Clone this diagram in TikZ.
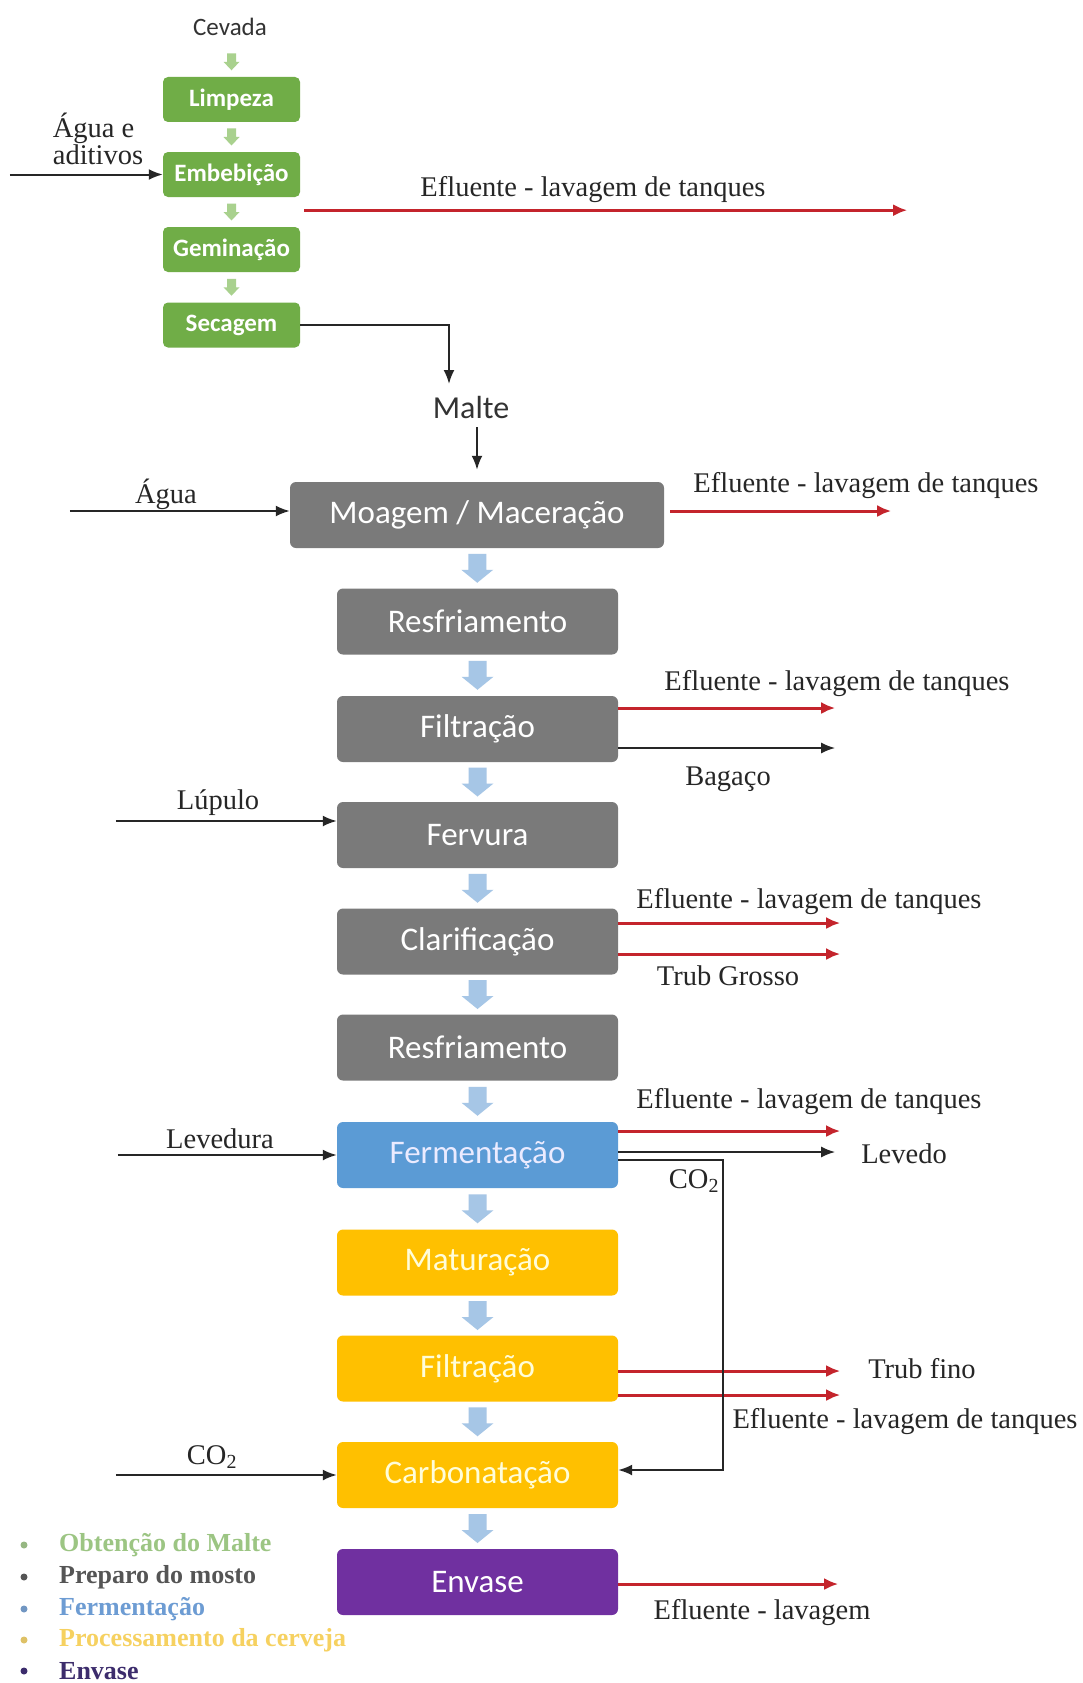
\documentclass[tikz,border=0pt]{standalone}
\usepackage{fontspec}
\setmainfont{Liberation Serif}
\newfontfamily\calfont{Carlito}
\usetikzlibrary{arrows.meta,calc}
\definecolor{grnbox}{HTML}{70AD47}
\definecolor{grnarr}{HTML}{A9D18E}
\definecolor{graybox}{HTML}{7A7A7A}
\definecolor{bluebox}{HTML}{5B9BD5}
\definecolor{yelbox}{HTML}{FFC000}
\definecolor{purbox}{HTML}{7030A0}
\definecolor{bluearr}{HTML}{A6C6E6}
\definecolor{effred}{RGB}{196,36,44}
\definecolor{lgA}{HTML}{9CC583}
\definecolor{lgB}{HTML}{555555}
\definecolor{lgC}{HTML}{6D9CD3}
\definecolor{lgD}{HTML}{F6D160}
\definecolor{lgE}{HTML}{3C2C6C}
\newcommand{\downblock}[2]{%
  \path ($(#1.south)!0.5!(#2.north)$) coordinate (m);
  \fill[bluearr, shift={(m)}] (-9,-14.5) -- (9,-14.5) -- (9,1.5) -- (16,1.5) -- (0,14.5) -- (-16,1.5) -- (-9,1.5) -- cycle;}
\newcommand{\downsmall}[1]{%
  \fill[grnarr, shift={(#1)}] (-4.5,-8.5) -- (4.5,-8.5) -- (4.5,0) -- (8,0) -- (0,8.5) -- (-8,0) -- (-4.5,0) -- cycle;}
\begin{document}
\begin{tikzpicture}[x=1pt,y=-1pt,
  gbox/.style={rounded corners=5pt, fill=grnbox, text=white, minimum width=137pt, minimum height=45pt, inner sep=0pt, font=\calfont\bfseries\fontsize{25}{28}\selectfont},
  pbox/.style={rounded corners=6pt, minimum width=281pt, minimum height=66pt, inner sep=0pt, text=white, font=\calfont\fontsize{33}{36}\selectfont},
  lbl/.style={inner sep=0pt, text=black!85, font=\fontsize{28.5}{31}\selectfont},
  blk/.style={draw=black!85, line width=2pt, -{Latex[length=14pt,width=11pt]}},
  redarr/.style={draw=effred, line width=3pt, -{Latex[length=14pt,width=12pt]}},
  legtxt/.style={anchor=west, inner sep=0pt, font=\bfseries\fontsize{26}{28}\selectfont}
]
\useasboundingbox (0,0) rectangle (1082,1683);
\fill[white] (0,0) rectangle (1082,1683);

% ---- malt stage
\node[inner sep=0pt, text=black!80, font=\calfont\fontsize{25}{28}\selectfont] (cev) at (230,27) {Cevada};
\node[gbox] (lim) at (231.5,99.5) {Limpeza};
\node[gbox] (emb) at (231.5,174.5) {Embebição};
\node[gbox] (gem) at (231.5,249.5) {Geminação};
\node[gbox] (sec) at (231.5,325) {Secagem};
\path ($(lim.north)+(0,-15)$) coordinate (g0);
\downsmall{g0}
\path ($(lim.south)!0.5!(emb.north)$) coordinate (g1);
\downsmall{g1}
\path ($(emb.south)!0.5!(gem.north)$) coordinate (g2);
\downsmall{g2}
\path ($(gem.south)!0.5!(sec.north)$) coordinate (g3);
\downsmall{g3}

\node[lbl, align=left] (aguaad) at (98,139) {Água e\\[-4pt]aditivos};
\coordinate (inA) at ($(emb.west)+(-153,0)$);
\draw[blk] (inA) -- (emb.west);

\draw[redarr] ([shift={(4pt,-13pt)}]emb.south east) -- ++(603,0);
\node[lbl] (ef1) at (593,190) {Efluente - lavagem de tanques};

\node[inner sep=0pt, text=black!80, font=\calfont\fontsize{32}{34}\selectfont] (malte) at (471,408) {Malte};
\coordinate (mtop) at (449,384);
\draw[blk] (sec.east) -| (mtop);

% ---- process boxes
\node[pbox, fill=graybox, minimum width=374pt] (moa) at (477,515) {Moagem / Maceração};
\node[pbox, fill=graybox] (res1) at (477.5,621.5) {Resfriamento};
\node[pbox, fill=graybox] (fil1) at (477.5,729) {Filtração};
\node[pbox, fill=graybox] (ferv) at (477.5,835) {Fervura};
\node[pbox, fill=graybox] (cla) at (477.5,941.5) {Clarificação};
\node[pbox, fill=graybox] (res2) at (477.5,1047.5) {Resfriamento};
\node[pbox, fill=bluebox, text=blue!8] (fer) at (477.5,1155) {Fermentação};
\node[pbox, fill=yelbox, text=yellow!15] (mat) at (477.5,1262.5) {Maturação};
\node[pbox, fill=yelbox, text=yellow!15] (fil2) at (477.5,1368.5) {Filtração};
\node[pbox, fill=yelbox, text=yellow!15] (carb) at (477.5,1475) {Carbonatação};
\node[pbox, fill=purbox] (env) at (477.5,1582) {Envase};

\draw[blk, shorten <=8pt, shorten >=12pt] (malte.south -| moa.north) -- (moa.north);

\downblock{moa}{res1}
\downblock{res1}{fil1}
\downblock{fil1}{ferv}
\downblock{ferv}{cla}
\downblock{cla}{res2}
\downblock{res2}{fer}
\downblock{fer}{mat}
\downblock{mat}{fil2}
\downblock{fil2}{carb}
\downblock{carb}{env}

% ---- inputs
\coordinate (inB) at ($([yshift=4pt]moa.west)+(-220,0)$);
\draw[blk] (inB) -- ([yshift=4pt]moa.west);
\node[lbl] (agua) at (166,494) {Água};

\coordinate (inC) at ($([yshift=14pt]ferv.west)+(-221,0)$);
\draw[blk] (inC) -- ([yshift=14pt]ferv.west);
\node[lbl] (lup) at (218,803) {Lúpulo};

\coordinate (inD) at ($(fer.west)+(-219,0)$);
\draw[blk] (inD) -- (fer.west);
\node[lbl] (lev) at (220,1139) {Levedura};

\coordinate (inE) at ($(carb.west)+(-221,0)$);
\draw[blk] (inE) -- (carb.west);
\node[lbl] (co2a) at (212,1457) {CO\textsubscript{2}};

% ---- outputs
\draw[redarr] ([shift={(6pt,4pt)}]moa.east) -- ++(221,0);
\node[lbl] (ef2) at (866,486) {Efluente - lavagem de tanques};

\draw[redarr] ([yshift=21pt]fil1.east) -- ++(217,0);
\draw[blk] ([yshift=-19pt]fil1.east) -- ++(217,0);
\node[lbl] (ef3) at (837,684) {Efluente - lavagem de tanques};
\node[lbl] (bag) at (728,779) {Bagaço};

\draw[redarr] ([yshift=18.5pt]cla.east) -- ++(222,0);
\draw[redarr] ([yshift=-12.5pt]cla.east) -- ++(222,0);
\node[lbl] (ef4) at (809,902) {Efluente - lavagem de tanques};
\node[lbl] (trubg) at (728,976) {Trub Grosso};

\draw[redarr] ([yshift=24pt]fer.east) -- ++(222,0);
\draw[blk] ([yshift=3pt]fer.east) -- ++(217,0);
\node[lbl] (ef5) at (809,1102) {Efluente - lavagem de tanques};
\node[lbl] (levd) at (904,1154) {Levedo};

\draw[redarr] ([yshift=-2.5pt]fil2.east) -- ++(222,0);
\draw[redarr] ([yshift=-26.5pt]fil2.east) -- ++(222,0);
\node[lbl] (trubf) at (922,1369) {Trub fino};
\node[lbl] (ef6) at (905,1422) {Efluente - lavagem de tanques};

\draw[blk] ([yshift=-5pt]fer.east) -- ++(105,0) |- ([yshift=5pt]carb.east);
\node[lbl] (co2b) at (694,1181) {CO\textsubscript{2}};

\draw[redarr] ([yshift=-2pt]env.east) -- ++(220,0);
\node[lbl] (ef7) at (762,1613) {Efluente - lavagem};

% ---- legend
\fill[lgA!80!gray] (24,1545) circle (3.5pt);
\node[legtxt, text=lgA] (lg1) at (59,1545) {Obtenção do Malte};
\fill[lgB] (24,1577) circle (3.5pt);
\node[legtxt, text=lgB] (lg2) at (59,1577) {Preparo do mosto};
\fill[lgC!80!gray] (24,1609) circle (3.5pt);
\node[legtxt, text=lgC] (lg3) at (59,1609) {Fermentação};
\fill[lgD!80!gray] (24,1640) circle (3.5pt);
\node[legtxt, text=lgD] (lg4) at (59,1640) {Processamento da cerveja};
\fill[lgE] (24,1671) circle (3.5pt);
\node[legtxt, text=lgE] (lg5) at (59,1671) {Envase};
\end{tikzpicture}
\end{document}
